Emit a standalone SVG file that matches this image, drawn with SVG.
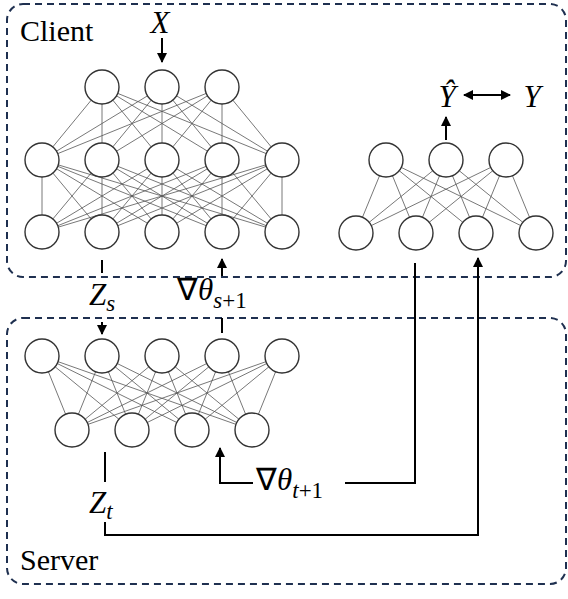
<svg xmlns="http://www.w3.org/2000/svg" width="568" height="599" viewBox="0 0 568 599">
<style>
.box{fill:none;stroke:#1f3050;stroke-width:2;stroke-dasharray:7 5}
.node{fill:#fff;stroke:#333;stroke-width:1.4}
.edge{fill:none;stroke:#555;stroke-width:0.8}
.conn{fill:none;stroke:#000;stroke-width:2}
</style>
<defs>
<marker id="ah" viewBox="0 0 10 10" refX="9" refY="5" markerWidth="10" markerHeight="10" markerUnits="userSpaceOnUse" orient="auto-start-reverse">
<path d="M0 0L10 5L0 10z" fill="#000"/>
</marker>
</defs>
<g id="client-box"><rect class="box" x="7" y="4" width="559" height="273" rx="16"/><text x="20" y="41" font-family="'Liberation Serif', serif" font-size="30">Client</text></g>
<g id="server-box"><rect class="box" x="7" y="318" width="559" height="266" rx="16"/><text x="20" y="570" font-family="'Liberation Serif', serif" font-size="30">Server</text></g>
<g id="edges">
<path class="edge" d="M102 87L42 160M102 87L102 160M102 87L162 160M102 87L222 160M102 87L282 160M162 87L42 160M162 87L102 160M162 87L162 160M162 87L222 160M162 87L282 160M222 87L42 160M222 87L102 160M222 87L162 160M222 87L222 160M222 87L282 160"/>
<path class="edge" d="M42 160L42 232M42 160L102 232M42 160L162 232M42 160L222 232M42 160L282 232M102 160L42 232M102 160L102 232M102 160L162 232M102 160L222 232M102 160L282 232M162 160L42 232M162 160L102 232M162 160L162 232M162 160L222 232M162 160L282 232M222 160L42 232M222 160L102 232M222 160L162 232M222 160L222 232M222 160L282 232M282 160L42 232M282 160L102 232M282 160L162 232M282 160L222 232M282 160L282 232"/>
<path class="edge" d="M386 160L356 233M386 160L416 233M386 160L476 233M386 160L536 233M446 160L356 233M446 160L416 233M446 160L476 233M446 160L536 233M506 160L356 233M506 160L416 233M506 160L476 233M506 160L536 233"/>
<path class="edge" d="M42 356L72 430M42 356L132 430M42 356L192 430M42 356L252 430M102 356L72 430M102 356L132 430M102 356L192 430M102 356L252 430M162 356L72 430M162 356L132 430M162 356L192 430M162 356L252 430M222 356L72 430M222 356L132 430M222 356L192 430M222 356L252 430M282 356L72 430M282 356L132 430M282 356L192 430M282 356L252 430"/>
</g>
<g id="client-net-a">
<g id="ca-t1"><circle class="node" cx="102" cy="87" r="17"/></g>
<g id="ca-t2"><circle class="node" cx="162" cy="87" r="17"/></g>
<g id="ca-t3"><circle class="node" cx="222" cy="87" r="17"/></g>
<g id="ca-m1"><circle class="node" cx="42" cy="160" r="17"/></g>
<g id="ca-m2"><circle class="node" cx="102" cy="160" r="17"/></g>
<g id="ca-m3"><circle class="node" cx="162" cy="160" r="17"/></g>
<g id="ca-m4"><circle class="node" cx="222" cy="160" r="17"/></g>
<g id="ca-m5"><circle class="node" cx="282" cy="160" r="17"/></g>
<g id="ca-b1"><circle class="node" cx="42" cy="232" r="17"/></g>
<g id="ca-b2"><circle class="node" cx="102" cy="232" r="17"/></g>
<g id="ca-b3"><circle class="node" cx="162" cy="232" r="17"/></g>
<g id="ca-b4"><circle class="node" cx="222" cy="232" r="17"/></g>
<g id="ca-b5"><circle class="node" cx="282" cy="232" r="17"/></g>
</g>
<g id="client-net-b">
<g id="cb-t1"><circle class="node" cx="386" cy="160" r="17"/></g>
<g id="cb-t2"><circle class="node" cx="446" cy="160" r="17"/></g>
<g id="cb-t3"><circle class="node" cx="506" cy="160" r="17"/></g>
<g id="cb-b1"><circle class="node" cx="356" cy="233" r="17"/></g>
<g id="cb-b2"><circle class="node" cx="416" cy="233" r="17"/></g>
<g id="cb-b3"><circle class="node" cx="476" cy="233" r="17"/></g>
<g id="cb-b4"><circle class="node" cx="536" cy="233" r="17"/></g>
</g>
<g id="server-net">
<g id="s-t1"><circle class="node" cx="42" cy="356" r="17"/></g>
<g id="s-t2"><circle class="node" cx="102" cy="356" r="17"/></g>
<g id="s-t3"><circle class="node" cx="162" cy="356" r="17"/></g>
<g id="s-t4"><circle class="node" cx="222" cy="356" r="17"/></g>
<g id="s-t5"><circle class="node" cx="282" cy="356" r="17"/></g>
<g id="s-b1"><circle class="node" cx="72" cy="430" r="17"/></g>
<g id="s-b2"><circle class="node" cx="132" cy="430" r="17"/></g>
<g id="s-b3"><circle class="node" cx="192" cy="430" r="17"/></g>
<g id="s-b4"><circle class="node" cx="252" cy="430" r="17"/></g>
</g>
<g id="connectors">
<path class="conn" d="M162 38V62" marker-end="url(#ah)"/>
<path class="conn" d="M446 140V117" marker-end="url(#ah)"/>
<path class="conn" d="M464 95H510" marker-start="url(#ah)" marker-end="url(#ah)"/>
<path class="conn" d="M102 260V273"/>
<path class="conn" d="M102 322V334" marker-end="url(#ah)"/>
<path class="conn" d="M222 318V333"/>
<path class="conn" d="M222 276V259" marker-end="url(#ah)"/>
<path class="conn" d="M105 452V482"/>
<path class="conn" d="M105 522V535H478V258" marker-end="url(#ah)"/>
<path class="conn" d="M415 263V483H345"/>
<path class="conn" d="M253 483H220V448" marker-end="url(#ah)"/>
</g>
<g id="labels" font-family="'Liberation Serif', serif" font-size="31" font-style="italic">
<text x="160" y="33" text-anchor="middle">X</text>
<text x="447" y="107" text-anchor="middle">Ŷ</text>
<text x="532" y="107" text-anchor="middle">Y</text>
<text x="89" y="305">Z<tspan font-size="23" dy="6">s</tspan></text>
<text x="177" y="300"><tspan font-style="normal">∇</tspan>θ<tspan font-size="23" dy="8">s</tspan><tspan font-size="23" font-style="normal">+1</tspan></text>
<text x="89" y="513">Z<tspan font-size="23" dy="6">t</tspan></text>
<text x="256" y="490"><tspan font-style="normal">∇</tspan>θ<tspan font-size="23" dy="8">t</tspan><tspan font-size="23" font-style="normal">+1</tspan></text>
</g>
</svg>
